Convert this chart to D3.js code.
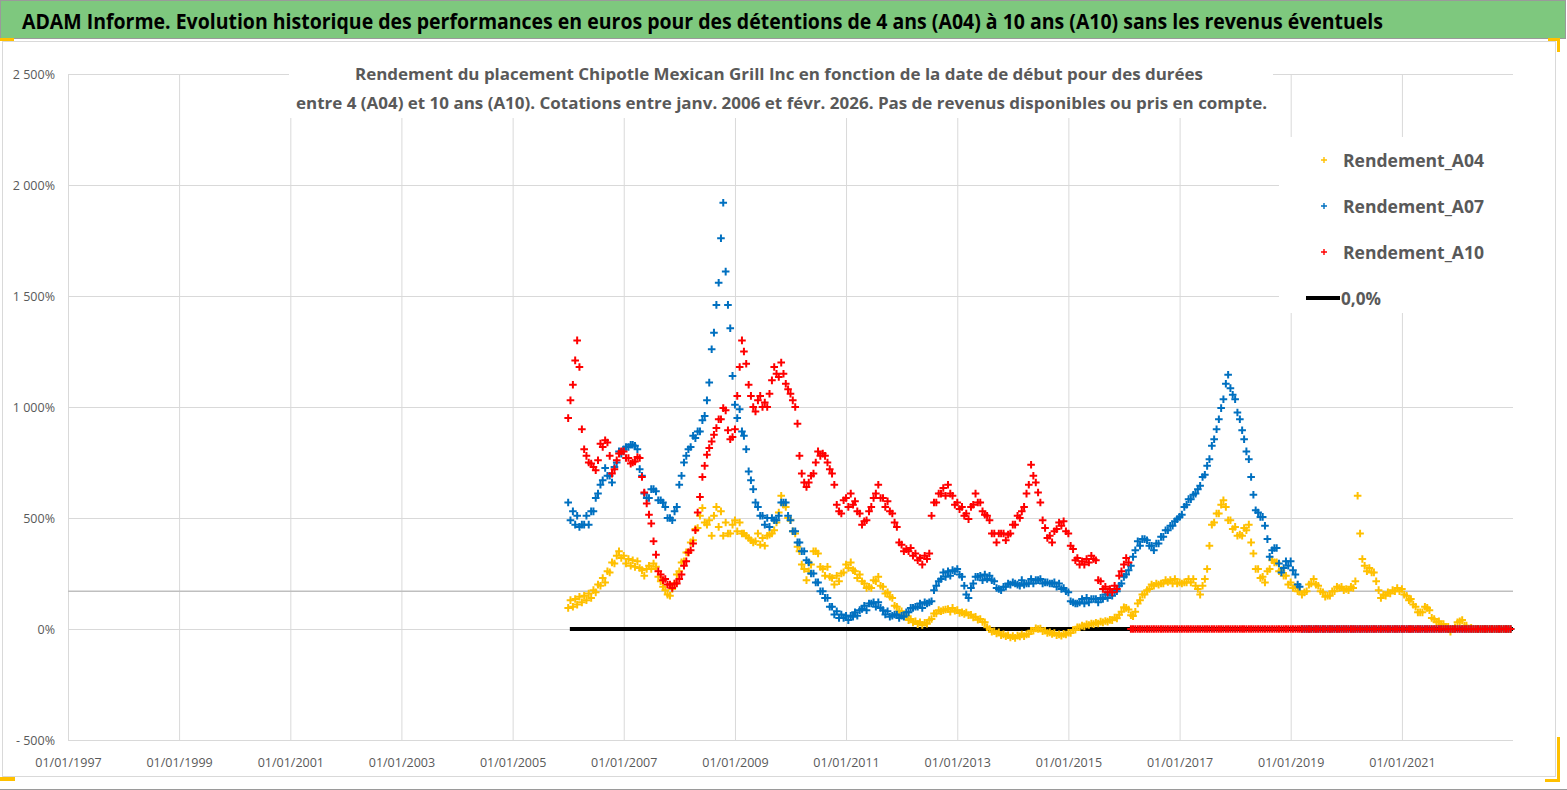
<!DOCTYPE html>
<html>
<head>
<meta charset="utf-8">
<script src="https://cdn.jsdelivr.net/npm/d3@7"></script>
<style>
  html, body { margin: 0; padding: 0; background: #fff; }
  svg { display: block; font-family: "Open Sans", "Noto Sans", sans-serif; }
</style>
</head>
<body>
<svg id="chart" width="1567" height="790"></svg>
<script>

/*
 * Chart data (two readings a month, from Jan 2006).
 */
var firstYear = 2006;

var rendementA04 = [
  95,130,100,135,110,145,120,150,130,160,140,175,165,200,195,230,210,260,255,300,295,330,350,320,
  330,295,315,285,310,280,305,275,265,240,270,285,270,295,280,235,215,190,175,155,150,180,205,245,
  260,300,305,345,345,390,400,450,455,510,545,480,470,490,420,510,550,460,530,420,480,430,430,470,
  490,440,480,430,430,420,410,400,390,395,430,380,410,375,420,425,430,445,480,525,600,560,550,500,
  490,440,430,370,350,290,270,220,260,290,350,350,340,280,270,240,280,235,230,200,240,215,250,255,
  290,275,300,265,260,230,245,215,205,185,190,185,220,215,235,195,190,160,165,145,140,105,100,80,
  80,60,60,40,45,30,35,22,30,18,28,24,40,45,70,70,85,80,85,88,90,78,95,82,
  85,72,75,68,74,62,64,52,55,42,45,32,30,8,0,-12,-10,-20,-15,-28,-24,-32,-28,-38,
  -32,-40,-30,-33,-25,-32,-24,-22,-8,-8,3,0,2,-10,-8,-18,-15,-22,-18,-28,-24,-30,-22,-25,
  -17,-18,-5,-3,8,8,15,12,21,18,25,22,28,25,33,30,36,33,41,40,52,48,64,78,
  98,95,88,62,58,78,115,130,155,155,175,180,200,195,205,200,205,205,220,212,220,205,225,205,
  210,205,210,210,225,210,225,195,180,155,195,225,270,375,470,480,520,520,560,580,550,490,490,450,
  460,420,425,420,455,445,470,390,340,270,270,230,235,210,260,270,310,300,300,260,265,240,240,200,
  210,185,190,170,170,155,165,170,200,205,225,200,195,170,165,145,150,150,170,170,190,185,190,175,
  180,175,190,185,215,600,430,315,285,260,275,255,255,215,175,140,155,150,165,160,175,170,185,170,
  180,155,150,130,135,110,100,75,75,75,100,95,85,50,45,30,35,20,22,8,10,-12,0,8,
  30,35,40,15,15,0,5,0,0,0,0,0,0,0,0,0,0,0,0,0,0,0,0,0
];

var rendementA07 = [
  570,490,530,470,510,460,470,470,510,470,530,530,590,610,650,670,725,690,690,660,730,750,800,790,
  810,820,820,830,830,825,810,720,690,610,590,590,630,630,620,580,580,570,550,500,500,490,530,550,
  650,690,750,780,810,820,870,860,890,890,940,960,1030,1110,1260,1335,1460,1560,1760,1920,1610,1460,1355,1140,
  1010,950,990,890,870,810,710,670,630,570,550,510,510,470,500,460,500,490,490,510,570,570,570,510,
  490,440,440,390,390,350,350,310,300,250,250,210,210,170,170,140,140,100,100,65,80,50,65,50,
  60,40,60,55,75,60,85,90,105,85,115,115,120,100,120,95,85,65,80,55,60,65,65,50,
  60,55,75,75,95,95,100,100,115,95,120,115,120,125,175,195,215,225,255,235,260,240,265,260,
  270,245,235,195,155,140,185,205,235,235,240,220,245,225,240,220,215,185,180,175,190,190,205,200,
  210,205,200,195,220,200,205,205,225,205,220,220,225,205,210,210,205,205,210,190,205,180,185,170,
  165,125,120,115,115,120,135,115,140,120,135,135,135,120,140,135,155,140,165,150,170,170,195,205,
  235,245,265,285,325,355,395,375,405,405,400,375,375,355,385,385,415,415,445,445,465,465,485,495,
  505,515,550,560,585,585,605,610,630,645,685,695,735,765,825,855,900,945,995,1035,1105,1145,1085,1055,
  1035,975,945,895,855,800,765,685,605,535,525,505,505,465,405,325,355,365,365,295,255,275,305,285,
  305,265,245,200,190,0,0,0,0,0,0,0,0,0,0,0,0,0,0,0,0,0,0,0,
  0,0,0,0,0,0,0,0,0,0,0,0,0,0,0,0,0,0,0,0,0,0,0,0,
  0,0,0,0,0,0,0,0,0,0,0,0,0,0,0,0,0,0,0,0,0,0,0,0,
  0,0,0,0,0,0,0,0,0,0,0,0,0,0,0,0,0,0,0,0,0,0,0,0
];

var rendementA10 = [
  950,1030,1100,1210,1300,1180,900,810,780,750,745,730,715,760,835,820,850,840,780,700,720,760,790,800,
  800,770,770,745,750,755,775,770,685,615,565,515,475,395,335,260,245,220,225,200,200,185,205,205,
  225,245,285,305,345,355,385,445,525,595,685,735,785,815,845,875,905,945,945,995,985,895,855,865,
  900,1050,1180,1300,1250,1195,1100,1050,1000,980,1030,1050,1000,1020,1000,1060,1120,1180,1150,1135,1200,1150,1105,1080,
  1060,1030,1000,925,780,700,660,640,660,690,700,750,800,780,790,780,750,720,700,650,560,530,520,580,
  590,550,610,560,575,530,520,470,485,490,530,550,590,610,650,590,590,550,575,530,520,480,460,390,
  380,350,360,350,365,330,340,310,320,290,330,315,340,510,570,570,610,610,635,600,650,610,600,560,
  570,540,550,510,520,495,550,560,610,570,570,530,515,510,490,430,430,390,430,430,430,400,425,430,
  470,470,510,500,530,550,610,650,740,690,660,615,570,490,455,410,420,390,440,450,480,465,485,440,
  430,375,360,310,320,290,305,290,315,300,330,315,310,220,215,180,190,165,180,165,195,180,240,260,
  290,320,300,0,0,0,0,0,0,0,0,0,0,0,0,0,0,0,0,0,0,0,0,0,
  0,0,0,0,0,0,0,0,0,0,0,0,0,0,0,0,0,0,0,0,0,0,0,0,
  0,0,0,0,0,0,0,0,0,0,0,0,0,0,0,0,0,0,0,0,0,0,0,0,
  0,0,0,0,0,0,0,0,0,0,0,0,0,0,0,0,0,0,0,0,0,0,0,0,
  0,0,0,0,0,0,0,0,0,0,0,0,0,0,0,0,0,0,0,0,0,0,0,0,
  0,0,0,0,0,0,0,0,0,0,0,0,0,0,0,0,0,0,0,0,0,0,0,0,
  0,0,0,0,0,0,0,0,0,0,0,0,0,0,0,0,0,0,0,0,0,0,0,0
];

// The "0,0%" reference line.
var zeroDates = [new Date(2006, 0, 12), new Date(2023, 0, 1)];
var zeroValues = [0, 0];

// Axes.
var xTickYears = [1997, 1999, 2001, 2003, 2005, 2007, 2009, 2011, 2013, 2015, 2017, 2019, 2021];
var yTicks = [-500, 0, 500, 1000, 1500, 2000, 2500];
var yTickLabels = ['- 500%', '0%', '500%', '1 000%', '1 500%', '2 000%', '2 500%'];
var axisCrossing = 170;

var seriesNames = ['Rendement_A04', 'Rendement_A07', 'Rendement_A10', '0,0%'];
var seriesColors = ['#FFC000', '#0070C0', '#FF0000', '#000000'];

var titleText = 'ADAM Informe. Evolution historique des performances en euros pour des détentions de 4 ans (A04) à 10 ans (A10) sans les revenus éventuels';
var subtitleLines = [
  'Rendement du placement Chipotle Mexican Grill Inc en fonction de la date de début pour des durées',
  'entre 4 (A04) et 10 ans (A10). Cotations entre janv. 2006 et févr. 2026. Pas de revenus disponibles ou pris en compte.'
];

/*
 * Setup.
 */
var W = 1567, H = 790;
var plot = { left: 68, right: 1513, top: 74, bottom: 740 };
var grey = '#595959';

var svg = d3.select('#chart');

var x = d3.scaleTime()
  .domain([new Date(1997, 0, 1), new Date(2023, 0, 1)])
  .range([plot.left, plot.right]);

var y = d3.scaleLinear()
  .domain([-500, 2500])
  .range([plot.bottom, plot.top]);

// Half-month index to date.
function pointDate(i) {
  var k = i % 24;
  return new Date(firstYear + Math.floor(i / 24), Math.floor(k / 2), k % 2 ? 16 : 1);
}

function toPoints(values) {
  return values.map(function(v, i) { return { date: pointDate(i), value: v }; });
}

/*
 * Frame.
 */
svg.append('rect').attr('width', W).attr('height', H).attr('fill', '#fff');

svg.append('rect')
  .attr('x', 2.5).attr('y', 41.5).attr('width', 1553).attr('height', 735)
  .attr('fill', 'none').attr('stroke', '#d9d9d9');

svg.append('rect')
  .attr('x', 0.5).attr('y', 0.5).attr('width', 1565).attr('height', 38)
  .attr('fill', '#7ec87e').attr('stroke', '#9a9a9a');

svg.append('line')
  .attr('x1', 0).attr('x2', W).attr('y1', 789.5).attr('y2', 789.5)
  .attr('stroke', '#9a9a9a');

// Selection handles.
var handles = [
  [0, 38, 14, 3], [1548, 38, 12, 3], [1557, 38, 3, 14],
  [0, 777, 15, 4], [1557, 737, 3, 45], [1545, 779, 15, 3]
];
svg.append('g').selectAll('rect').data(handles).join('rect')
  .attr('x', function(d) { return d[0]; })
  .attr('y', function(d) { return d[1]; })
  .attr('width', function(d) { return d[2]; })
  .attr('height', function(d) { return d[3]; })
  .attr('fill', '#FFC000');

svg.append('text')
  .attr('x', 22).attr('y', 29)
  .attr('textLength', 1361).attr('lengthAdjust', 'spacingAndGlyphs')
  .attr('font-size', 21).attr('font-weight', 'bold').attr('fill', '#000')
  .text(titleText);

/*
 * Axes and grid.
 */
var yAxis = d3.axisLeft(y)
  .tickValues(yTicks)
  .tickFormat(function(d, i) { return yTickLabels[i]; })
  .tickSize(-(plot.right - plot.left))
  .tickPadding(13);

var xAxis = d3.axisBottom(x)
  .tickValues(xTickYears.map(function(yr) { return new Date(yr, 0, 1); }))
  .tickFormat(d3.timeFormat('%d/%m/%Y'))
  .tickSize(-(plot.bottom - plot.top))
  .tickPadding(18);

var gy = svg.append('g')
  .attr('transform', 'translate(' + plot.left + ',0)')
  .call(yAxis);

var gx = svg.append('g')
  .attr('transform', 'translate(0,' + plot.bottom + ')')
  .call(xAxis);

[gx, gy].forEach(function(g) {
  g.select('.domain').remove();
  g.selectAll('line').attr('stroke', '#d9d9d9');
  g.selectAll('text')
    .attr('fill', grey)
    .attr('font-size', 12.5)
    .attr('font-family', '"Open Sans", sans-serif');
});

// Horizontal axis line.
svg.append('line')
  .attr('x1', plot.left).attr('x2', plot.right)
  .attr('y1', y(axisCrossing)).attr('y2', y(axisCrossing))
  .attr('stroke', '#bfbfbf').attr('stroke-width', 1.5);

/*
 * Series.
 */
var zeroLine = d3.line()
  .x(function(d) { return x(d); })
  .y(function(d, i) { return y(zeroValues[i]); });

svg.append('path')
  .attr('d', zeroLine(zeroDates))
  .attr('fill', 'none')
  .attr('stroke', seriesColors[3])
  .attr('stroke-width', 4);

var plusPath = 'M-3.8,0H3.8M0,-3.8V3.8';

[rendementA04, rendementA07, rendementA10].forEach(function(values, s) {
  svg.append('g')
    .attr('stroke', seriesColors[s])
    .attr('stroke-width', 2)
    .attr('fill', 'none')
    .selectAll('path')
    .data(toPoints(values))
    .join('path')
    .attr('transform', function(d) {
      return 'translate(' + x(d.date) + ',' + y(d.value) + ')';
    })
    .attr('d', plusPath);
});

/*
 * Subtitle box.
 */
svg.append('rect')
  .attr('x', 289).attr('y', 56).attr('width', 984).attr('height', 62)
  .attr('fill', '#fff');

var subX = [355, 296], subY = [80, 109], subLen = [848, 971];
svg.append('g').selectAll('text').data(subtitleLines).join('text')
  .attr('x', function(d, i) { return subX[i]; })
  .attr('y', function(d, i) { return subY[i]; })
  .attr('textLength', function(d, i) { return subLen[i]; })
  .attr('lengthAdjust', 'spacingAndGlyphs')
  .attr('font-size', 16.5).attr('font-weight', 'bold').attr('fill', grey)
  .text(function(d) { return d; });

/*
 * Legend.
 */
svg.append('rect')
  .attr('x', 1279).attr('y', 137).attr('width', 237).attr('height', 176)
  .attr('fill', '#fff');

var legend = svg.append('g').selectAll('g')
  .data(seriesNames).join('g')
  .attr('transform', function(d, i) { return 'translate(1324,' + (160 + i * 46) + ')'; });

legend.filter(function(d, i) { return i < 3; })
  .append('path')
  .attr('d', 'M-3,0H3M0,-3V3')
  .attr('stroke', function(d, i) { return seriesColors[i]; })
  .attr('stroke-width', 1.4);

legend.filter(function(d, i) { return i === 3; })
  .append('line')
  .attr('x1', -18).attr('x2', 16)
  .attr('stroke', seriesColors[3]).attr('stroke-width', 4);

legend.append('text')
  .attr('x', function(d, i) { return i < 3 ? 19 : 17; })
  .attr('y', 7)
  .attr('textLength', function(d, i) { return i < 3 ? 141 : 40; })
  .attr('lengthAdjust', 'spacingAndGlyphs')
  .attr('font-size', 18.5).attr('font-weight', 'bold').attr('fill', grey)
  .text(function(d) { return d; });

</script>
</body>
</html>
